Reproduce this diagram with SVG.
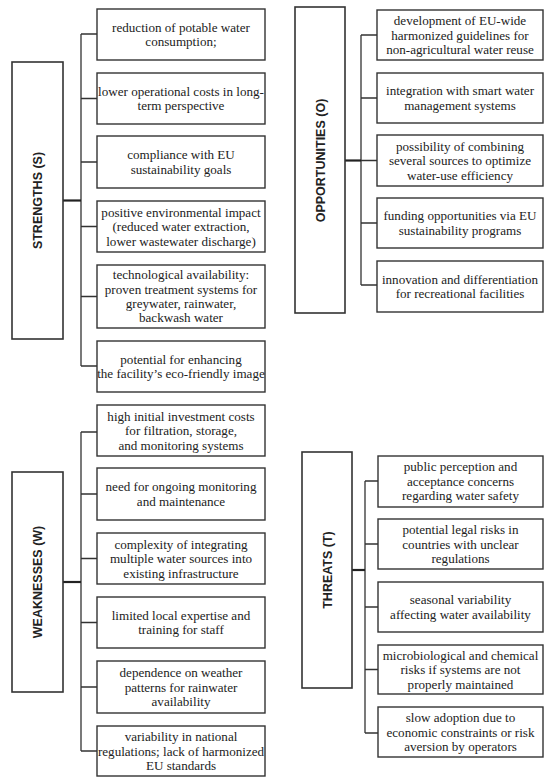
<svg xmlns="http://www.w3.org/2000/svg" width="550" height="782" viewBox="0 0 550 782">
<style>
.box{fill:#fff;stroke:#333;stroke-width:1.4}
.hd{fill:#fff;stroke:#333;stroke-width:1.6}
.t{font-family:"Liberation Serif","DejaVu Serif",serif;font-size:13.1px;fill:#222;text-anchor:middle}
.h{font-family:"Liberation Sans","DejaVu Sans",sans-serif;font-size:12.5px;font-weight:bold;fill:#222;text-anchor:middle}
.c{fill:none;stroke:#333;stroke-width:1.3}
.cb{fill:none;stroke:#222;stroke-width:2.2}
</style>
<rect width="550" height="782" fill="#fff"/>
<g id="connectors">
<path class="c" d="M81,34V366M81,34H97M81,98.5H97M81,162H97M81,226.5H97M81,296.5H97M81,366H97"/>
<path class="cb" d="M63,200.5H81"/>
<path class="c" d="M361,35V285M361,35H377M361,98H377M361,160.5H377M361,223H377M361,285H377"/>
<path class="cb" d="M345,160.5H361"/>
<path class="c" d="M81,432V751M81,432H97M81,494H97M81,558.5H97M81,622.5H97M81,687H97M81,751H97"/>
<path class="cb" d="M63,582H81"/>
<path class="c" d="M365,481V733M365,481H378M365,544H378M365,607H378M365,669.5H378M365,733H378"/>
<path class="cb" d="M352,570H365"/>
</g>
<g id="S">
<rect class="hd" x="12" y="62" width="51" height="277"/>
<text class="h" transform="translate(42,200.5) rotate(-90)">STRENGTHS (S)</text>
</g>
<g id="S1"><rect class="box" x="97" y="9" width="168" height="51"/><text class="t" x="181" y="31.5">reduction of potable water</text><text class="t" x="181" y="46">consumption;</text></g>
<g id="S2"><rect class="box" x="97" y="73" width="168" height="51"/><text class="t" x="181" y="95.5">lower operational costs in long-</text><text class="t" x="181" y="110">term perspective</text></g>
<g id="S3"><rect class="box" x="97" y="136" width="168" height="52"/><text class="t" x="181" y="159">compliance with EU</text><text class="t" x="181" y="173.5">sustainability goals</text></g>
<g id="S4"><rect class="box" x="97" y="201" width="168" height="51"/><text class="t" x="181" y="216.5">positive environmental impact</text><text class="t" x="181" y="231">(reduced water extraction,</text><text class="t" x="181" y="245.5">lower wastewater discharge)</text></g>
<g id="S5"><rect class="box" x="97" y="265" width="168" height="63"/><text class="t" x="181" y="279">technological availability:</text><text class="t" x="181" y="293.5">proven treatment systems for</text><text class="t" x="181" y="308">greywater, rainwater,</text><text class="t" x="181" y="322">backwash water</text></g>
<g id="S6"><rect class="box" x="97" y="341" width="168" height="51"/><text class="t" x="181" y="363.5">potential for enhancing</text><text class="t" x="181" y="378">the facility’s eco-friendly image</text></g>

<g id="O">
<rect class="hd" x="295" y="7" width="50" height="306"/>
<text class="h" transform="translate(324.5,160.5) rotate(-90)">OPPORTUNITIES (O)</text>
</g>
<g id="O1"><rect class="box" x="377" y="10" width="166" height="50"/><text class="t" x="460" y="25">development of EU-wide</text><text class="t" x="460" y="39.5">harmonized guidelines for</text><text class="t" x="460" y="54">non-agricultural water reuse</text></g>
<g id="O2"><rect class="box" x="377" y="73" width="166" height="50"/><text class="t" x="460" y="95">integration with smart water</text><text class="t" x="460" y="109.5">management systems</text></g>
<g id="O3"><rect class="box" x="377" y="135" width="166" height="51"/><text class="t" x="460" y="150.5">possibility of combining</text><text class="t" x="460" y="165">several sources to optimize</text><text class="t" x="460" y="179.5">water-use efficiency</text></g>
<g id="O4"><rect class="box" x="377" y="198" width="166" height="50"/><text class="t" x="460" y="220">funding opportunities via EU</text><text class="t" x="460" y="234.5">sustainability programs</text></g>
<g id="O5"><rect class="box" x="377" y="261" width="166" height="51"/><text class="t" x="460" y="283.5">innovation and differentiation</text><text class="t" x="460" y="298">for recreational facilities</text></g>

<g id="W">
<rect class="hd" x="12" y="472" width="51" height="220"/>
<text class="h" transform="translate(42,582) rotate(-90)">WEAKNESSES (W)</text>
</g>
<g id="W1"><rect class="box" x="97" y="405" width="168" height="51"/><text class="t" x="181" y="420.5">high initial investment costs</text><text class="t" x="181" y="435">for filtration, storage,</text><text class="t" x="181" y="449.5">and monitoring systems</text></g>
<g id="W2"><rect class="box" x="97" y="468" width="168" height="52"/><text class="t" x="181" y="491">need for ongoing monitoring</text><text class="t" x="181" y="505.5">and maintenance</text></g>
<g id="W3"><rect class="box" x="97" y="533" width="168" height="51"/><text class="t" x="181" y="548.5">complexity of integrating</text><text class="t" x="181" y="563">multiple water sources into</text><text class="t" x="181" y="577.5">existing infrastructure</text></g>
<g id="W4"><rect class="box" x="97" y="597" width="168" height="51"/><text class="t" x="181" y="619.5">limited local expertise and</text><text class="t" x="181" y="634">training for staff</text></g>
<g id="W5"><rect class="box" x="97" y="661" width="168" height="52"/><text class="t" x="181" y="677">dependence on weather</text><text class="t" x="181" y="691.5">patterns for rainwater</text><text class="t" x="181" y="706">availability</text></g>
<g id="W6"><rect class="box" x="97" y="726" width="168" height="50"/><text class="t" x="181" y="741">variability in national</text><text class="t" x="181" y="755.5">regulations; lack of harmonized</text><text class="t" x="181" y="770">EU standards</text></g>

<g id="T">
<rect class="hd" x="302" y="452" width="50" height="236"/>
<text class="h" transform="translate(331.5,570) rotate(-90)">THREATS (T)</text>
</g>
<g id="T1"><rect class="box" x="378" y="456" width="165" height="51"/><text class="t" x="460.5" y="471">public perception and</text><text class="t" x="460.5" y="485.5">acceptance concerns</text><text class="t" x="460.5" y="500">regarding water safety</text></g>
<g id="T2"><rect class="box" x="378" y="519" width="165" height="50"/><text class="t" x="460.5" y="534">potential legal risks in</text><text class="t" x="460.5" y="548.5">countries with unclear</text><text class="t" x="460.5" y="563">regulations</text></g>
<g id="T3"><rect class="box" x="378" y="582" width="165" height="50"/><text class="t" x="460.5" y="604">seasonal variability</text><text class="t" x="460.5" y="618.5">affecting water availability</text></g>
<g id="T4"><rect class="box" x="378" y="645" width="165" height="49"/><text class="t" x="460.5" y="659.5">microbiological and chemical</text><text class="t" x="460.5" y="674">risks if systems are not</text><text class="t" x="460.5" y="688.5">properly maintained</text></g>
<g id="T5"><rect class="box" x="378" y="707" width="165" height="50"/><text class="t" x="460.5" y="722">slow adoption due to</text><text class="t" x="460.5" y="736.5">economic constraints or risk</text><text class="t" x="460.5" y="751">aversion by operators</text></g>
</svg>
